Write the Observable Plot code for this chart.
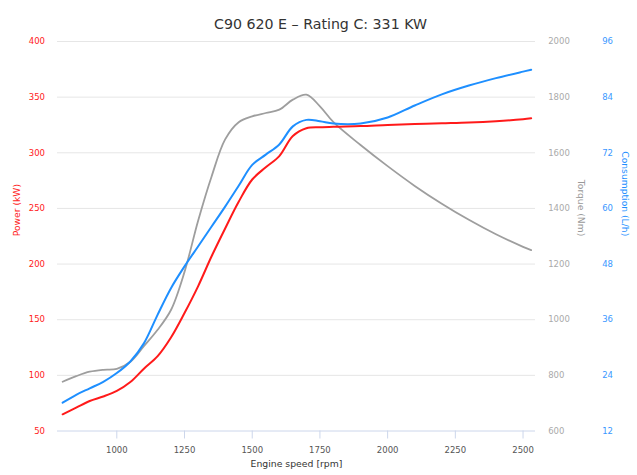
<!DOCTYPE html>
<html>
<head>
<meta charset="utf-8">
<script src="https://cdn.jsdelivr.net/npm/d3@7"></script>
<script src="https://cdn.jsdelivr.net/npm/@observablehq/plot@0.6"></script>
<style>
  html, body { margin: 0; padding: 0; background: #fff; }
  #chart svg { display: block; }
</style>
</head>
<body>
<div id="chart"></div>
<script>
const title = "C90 620 E – Rating C: 331 KW";
const rpm         = [800, 850, 900, 950, 1000, 1050, 1100, 1150, 1200, 1250, 1300, 1350, 1400, 1450, 1500, 1550, 1600, 1650, 1700, 1750, 1800, 1900, 2000, 2100, 2200, 2300, 2400, 2500, 2530];
const power       = [65, 71, 77, 81, 86, 94, 106, 117, 134, 156, 180, 207, 232, 256, 276, 287, 297, 315, 322, 323, 323.5, 324, 325, 325.8, 326.5, 327.2, 328.4, 330.2, 331];
const torque      = [777, 797, 813, 820, 823, 849, 905, 963, 1035, 1172, 1355, 1515, 1648, 1710, 1731, 1743, 1755, 1791, 1809, 1767, 1710, 1628, 1552, 1481, 1417, 1359, 1307, 1262, 1250];
const consumption = [18.1, 19.8, 21.2, 22.6, 24.5, 27.0, 30.9, 37.0, 42.8, 47.5, 51.8, 56.1, 60.4, 64.9, 69.4, 71.6, 73.8, 77.7, 79.1, 78.8, 78.3, 78.3, 79.6, 82.2, 84.6, 86.5, 88.1, 89.5, 89.9];
const xTicks = [1000, 1250, 1500, 1750, 2000, 2250, 2500];
const powerTicks = [50, 100, 150, 200, 250, 300, 350, 400];
const torqueTicks = [600, 800, 1000, 1200, 1400, 1600, 1800, 2000];
const consumptionTicks = [12, 24, 36, 48, 60, 72, 84, 96];

// map secondary axes onto the power scale (shared gridlines)
const torqueToP = t => 50 + (t - 600) * 350 / 1400;
const consToP = c => 50 + (c - 12) * 350 / 84;

const rows = rpm.map((r, i) => ({rpm: r, power: power[i], torque: torque[i], consumption: consumption[i]}));

const RED = "#ff1a1a", GRAY = "#9e9e9e", BLUE = "#1e8fff";
const font = "DejaVu Sans";

const chart = Plot.plot({
  width: 637,
  height: 475,
  marginLeft: 57,
  marginRight: 102,
  marginTop: 41,
  marginBottom: 44.5,
  style: {fontFamily: font, fontSize: "8.5px", background: "#fff", overflow: "visible"},
  x: {domain: [781, 2546]},
  y: {domain: [50, 400]},
  marks: [
    Plot.gridY(powerTicks.slice(1), {stroke: "#e6e6e6", strokeOpacity: 1}),
    Plot.ruleY([50], {stroke: "#ccd6eb"}),
    Plot.axisX({ticks: xTicks, tickSize: 8, tickPadding: 8, stroke: "#ccd6eb", strokeOpacity: 1, fill: "#555", fontSize: 8.5, label: null, tickFormat: d => String(d)}),
    Plot.axisY({anchor: "left", ticks: powerTicks, tickSize: 0, tickPadding: 12.5, fill: RED, fontSize: 8.5, label: null}),
    Plot.axisY({anchor: "right", ticks: torqueTicks.map(torqueToP), tickFormat: (d, i) => String(torqueTicks[i]), tickSize: 0, tickPadding: 12.7, fill: "#aaa", fontSize: 8.5, label: null}),
    Plot.axisY({anchor: "right", ticks: consumptionTicks.map(consToP), tickFormat: (d, i) => String(consumptionTicks[i]), tickSize: 0, tickPadding: 66.7, fill: "#3a98ff", fontSize: 8.5, label: null}),
    Plot.line(rows, {x: "rpm", y: d => torqueToP(d.torque), stroke: GRAY, strokeWidth: 1.8, curve: "catmull-rom"}),
    Plot.line(rows, {x: "rpm", y: d => consToP(d.consumption), stroke: BLUE, strokeWidth: 2, curve: "catmull-rom"}),
    Plot.line(rows, {x: "rpm", y: "power", stroke: RED, strokeWidth: 2, curve: "catmull-rom"}),
    Plot.text([title], {text: d => d, frameAnchor: "top", dx: 24, dy: -23, fontSize: 14.2, fill: "#333"}),
    Plot.text(["Power (kW)"], {text: d => d, frameAnchor: "left", dx: -40, rotate: -90, fontSize: 9.2, fill: RED}),
    Plot.text(["Torque (Nm)"], {text: d => d, frameAnchor: "right", dx: 45.5, rotate: 90, fontSize: 9.2, fill: "#999"}),
    Plot.text(["Consumption (L/h)"], {text: d => d, frameAnchor: "right", dx: 89, rotate: 90, fontSize: 9.2, fill: BLUE}),
    Plot.text(["Engine speed [rpm]"], {text: d => d, frameAnchor: "bottom", dy: 36, fontSize: 9.3, fill: "#333"})
  ]
});
document.getElementById("chart").appendChild(chart);
</script>
</body>
</html>
